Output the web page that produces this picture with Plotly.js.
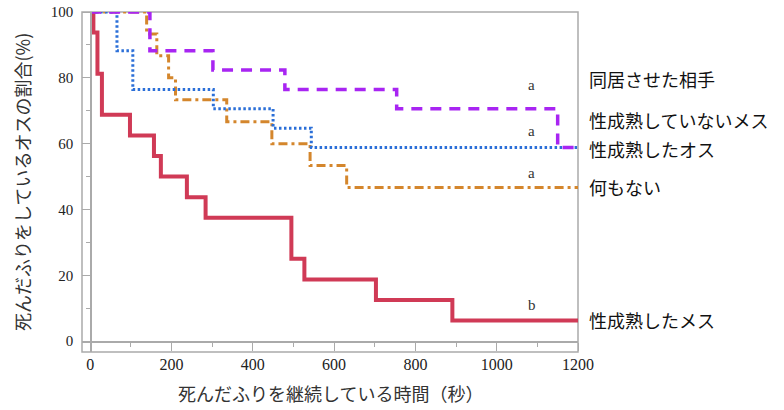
<!DOCTYPE html>
<html>
<head>
<meta charset="utf-8">
<script src="https://cdn.plot.ly/plotly-3.0.1.min.js"></script>
<style>html,body{margin:0;padding:0;background:#fff;}#chart{width:784px;height:410px;}</style>
</head>
<body>
<div id="chart"></div>
<script>
// 性成熟したメス
const xRed = [0, 8, 18, 29, 98, 157, 174, 238, 284, 495, 527, 703, 891, 1200];
const yRed = [100, 93.75, 81.25, 68.75, 62.5, 56.25, 50, 43.75, 37.5, 25, 18.75, 12.5, 6.25, 6.25];
// 同居させた相手 (性成熟していないメス)
const xPurple = [0, 147, 302, 479, 754, 1150, 1200];
const yPurple = [100, 88.24, 82.35, 76.47, 70.59, 58.82, 58.82];
// 性成熟したオス
const xBlue = [0, 66, 105, 303, 450, 544, 1200];
const yBlue = [100, 88.24, 76.47, 70.59, 64.71, 58.82, 58.82];
// 何もない
const xOrange = [0, 139, 164, 193, 210, 336, 447, 541, 631, 1200];
const yOrange = [100, 93.33, 86.67, 80, 73.33, 66.67, 60, 53.33, 46.67, 46.67];

const xTicks = [0, 200, 400, 600, 800, 1000, 1200];
const yTicks = [0, 20, 40, 60, 80, 100];

const groupLabels = ["同居させた相手", "性成熟していないメス", "性成熟したオス", "何もない", "性成熟したメス"];
const groupLabelY = [79.6, 67.2, 58.4, 46.8, 6.3];
const sigLetters = ["a", "a", "a", "b"];
const sigLetterY = [77.8, 63.8, 51, 10.9];
const sigLetterX = 1086;

const traces = [
  {x: xOrange, y: yOrange, mode: 'lines', line: {shape: 'hv', color: '#d4862c', width: 3, dash: '9px,4px,3px,4px'}},
  {x: xBlue, y: yBlue, mode: 'lines', line: {shape: 'hv', color: '#2b6fd8', width: 3, dash: '2.5px,2.5px'}},
  {x: xRed, y: yRed, mode: 'lines', line: {shape: 'hv', color: '#d03a56', width: 4}},
  {x: xPurple, y: yPurple, mode: 'lines', line: {shape: 'hv', color: '#a825f2', width: 3.5, dash: '11px,8px'}}
];

const annotations = [];
groupLabels.forEach((t, i) => annotations.push({
  x: 1.018, y: (groupLabelY[i] + 3.3) / 103.3, xref: 'paper', yref: 'paper', text: t, showarrow: false,
  xanchor: 'left', yanchor: 'middle', font: {family: 'Noto Sans CJK JP', size: 18, color: '#111'}
}));
sigLetters.forEach((t, i) => annotations.push({
  x: sigLetterX, y: sigLetterY[i], xref: 'x', yref: 'y', text: t, showarrow: false,
  xanchor: 'center', yanchor: 'middle', font: {family: 'Liberation Serif', size: 15, color: '#333'}
}));
annotations.push({
  x: 0.5, y: -0.1206, xref: 'paper', yref: 'paper', text: '死んだふりを継続している時間（秒）',
  showarrow: false, xanchor: 'center', yanchor: 'middle',
  font: {family: 'Noto Sans CJK JP', size: 18, color: '#333'}
});
annotations.push({
  x: -0.121, y: 0.5, xref: 'paper', yref: 'paper', text: '死んだふりをしているオスの割合(%)',
  showarrow: false, textangle: -90, xanchor: 'center', yanchor: 'middle',
  font: {family: 'Noto Sans CJK JP', size: 18, color: '#333'}
});

const layout = {
  width: 784, height: 410,
  margin: {l: 82, r: 206, t: 12, b: 58},
  paper_bgcolor: '#fff', plot_bgcolor: '#fff',
  showlegend: false, hovermode: false,
  xaxis: {
    range: [-20, 1200], anchor: 'free', position: 3.3 / 103.3,
    showgrid: false, zeroline: false, showline: true, linecolor: '#aaa', linewidth: 1.5,
    tickvals: xTicks, ticktext: xTicks.map(String), ticks: 'outside', ticklen: 8, tickcolor: '#aaa', tickwidth: 1,
    minor: {dtick: 100, tick0: 0, ticks: 'outside', ticklen: 4, tickcolor: '#aaa'},
    tickfont: {family: 'Liberation Serif', size: 16, color: '#222'}, ticklabelstandoff: 0
  },
  yaxis: {
    range: [-3.3, 100], anchor: 'free', position: 20 / 1220,
    showgrid: false, zeroline: false, showline: true, linecolor: '#aaa', linewidth: 1.5,
    tickvals: yTicks, ticktext: yTicks.map(String), ticks: 'outside', ticklen: 8, tickcolor: '#aaa', tickwidth: 1,
    minor: {dtick: 10, tick0: 0, ticks: 'outside', ticklen: 4, tickcolor: '#aaa'},
    tickfont: {family: 'Liberation Serif', size: 15, color: '#222'}, ticklabelstandoff: 6
  },
  shapes: [{type: 'rect', xref: 'paper', yref: 'paper', x0: 0, x1: 1, y0: 0, y1: 1, line: {color: '#aaa', width: 1.5}, layer: 'below'}],
  annotations: annotations
};

Plotly.newPlot('chart', traces, layout, {displayModeBar: false, staticPlot: true});
</script>
</body>
</html>
